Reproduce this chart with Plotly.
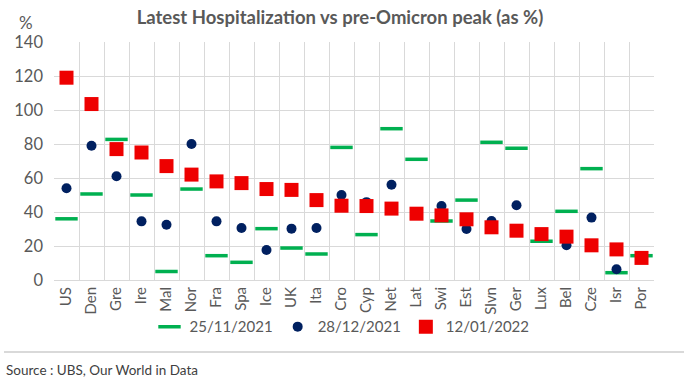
import plotly.graph_objects as go

countries = ["US", "Den", "Gre", "Ire", "Mal", "Nor", "Fra", "Spa", "Ice", "UK", "Ita", "Cro",
             "Cyp", "Net", "Lat", "Swi", "Est", "Slvn", "Ger", "Lux", "Bel", "Cze", "Isr", "Por"]
nov25 = [36, 50.6, 82.7, 50, 5, 53.5, 14.3, 10.4, 30.2, 18.8, 15.3, 78,
         26.7, 89, 71, 34.7, 47, 81, 77.5, 22.8, 40.4, 65.5, 4.3, 14.3]
dec28 = [54, 79, 61, 34.5, 32.5, 80, 34.5, 30.6, 17.6, 30.2, 30.6, 50,
         45.8, 56, 39, 43.5, 30, 34.7, 44, 27, 20.4, 36.7, 6.3, 13]
jan12 = [119, 103.5, 77, 75, 67, 62, 58, 57, 53.5, 53, 47, 43.7,
         43.5, 42, 39, 38, 35.7, 31, 29, 27, 25.5, 20.4, 18, 13]

FONT = "Lato, Open Sans, sans-serif"
GRAY = "#595959"

fig = go.Figure()
fig.add_trace(go.Scatter(x=countries, y=nov25, mode="markers", name="25/11/2021",
                         marker=dict(symbol="line-ew", size=16, color="#00b050",
                                     line=dict(color="#00b050", width=3.5))))
fig.add_trace(go.Scatter(x=countries, y=dec28, mode="markers", name="28/12/2021",
                         marker=dict(symbol="circle", size=10, color="#002060")))
fig.add_trace(go.Scatter(x=countries, y=jan12, mode="markers", name="12/01/2022",
                         marker=dict(symbol="square", size=14, color="#ee0000")))

fig.update_layout(
    width=687, height=385,
    margin=dict(l=54, r=33, t=42, b=105, autoexpand=False),
    paper_bgcolor="white", plot_bgcolor="white",
    font=dict(family=FONT, color=GRAY, size=14),
    title=dict(text="<b>Latest Hospitalization vs pre-Omicron peak (as %)</b>",
               x=(340 / 687), xanchor="center", y=1 - 18 / 385, yanchor="middle",
               font=dict(family=FONT, size=18.5, color=GRAY)),
    showlegend=True,
    legend=dict(orientation="h", x=0.48, xanchor="center", y=-0.197, yanchor="middle",
                font=dict(family=FONT, size=15, color=GRAY),
                itemwidth=30, tracegroupgap=0, bgcolor="rgba(0,0,0,0)"),
    xaxis=dict(type="category", tickson="boundaries", showgrid=True, gridcolor="#d9d9d9",
               gridwidth=1, tickangle=-90, ticks="", showline=True, linecolor="#d9d9d9",
               automargin=False,
               tickfont=dict(family=FONT, size=15, color=GRAY), range=[-0.5, 23.5]),
    yaxis=dict(range=[0, 140], dtick=20, showgrid=True, gridcolor="#d9d9d9", gridwidth=1,
               zeroline=False, showline=False, ticks="", automargin=False,
               ticklabelstandoff=10,
               tickfont=dict(family=FONT, size=16.5, color=GRAY)),
)

fig.add_annotation(text="%", xref="paper", yref="paper", x=-19 / 600, y=1 + 20 / 238,
                   xanchor="right", yanchor="middle", showarrow=False,
                   font=dict(family=FONT, size=17, color=GRAY))
fig.add_shape(type="line", xref="paper", yref="paper", x0=-50 / 600, x1=630 / 600,
              y0=-72 / 238, y1=-72 / 238, line=dict(color="#d9d9d9", width=2))
fig.add_annotation(text="Source : UBS, Our World in Data", xref="paper", yref="paper",
                   x=-50 / 600, y=-90 / 238, xanchor="left", yanchor="middle", showarrow=False,
                   font=dict(family=FONT, size=13.5, color="#404040"))

fig.write_html("out.html", config={"displayModeBar": False},
               post_script="document.body.style.margin='0';")
